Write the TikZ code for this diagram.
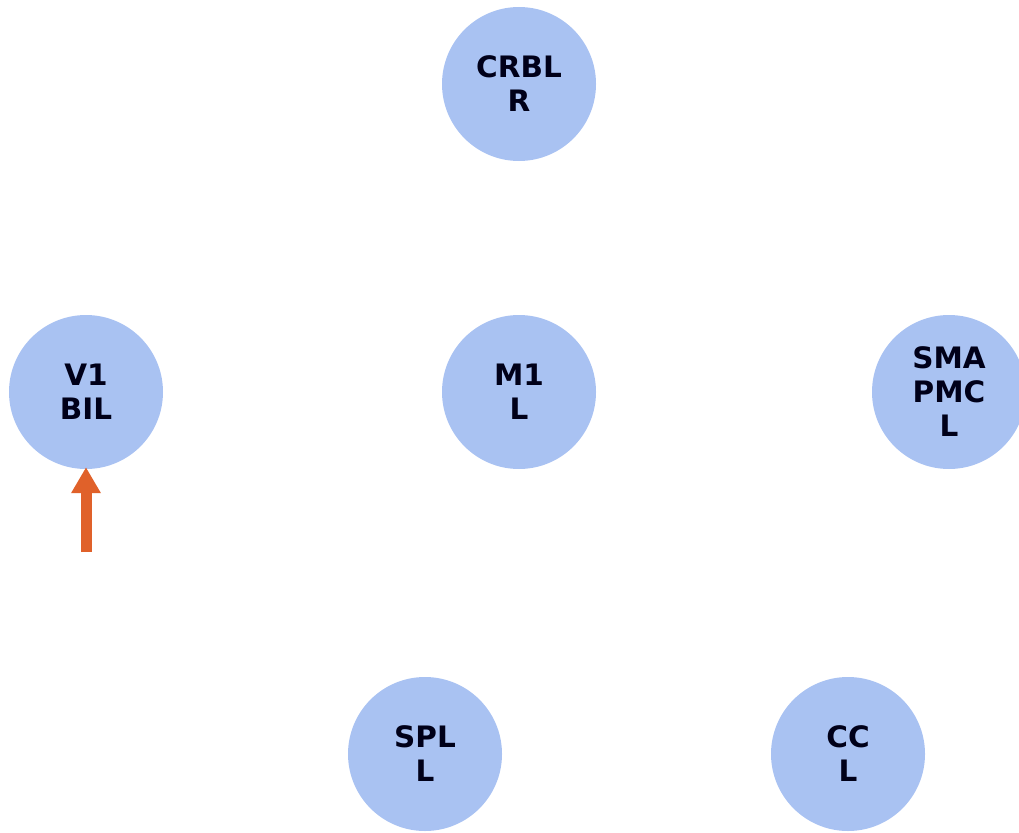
\documentclass[tikz,border=0pt]{standalone}
\usepackage{fontspec}
\setmainfont{DejaVu Sans}
\usetikzlibrary{arrows.meta}
\definecolor{regionfill}{HTML}{A9C2F2}
\definecolor{stimarrow}{HTML}{E0612A}
\begin{document}
\begin{tikzpicture}[x=1pt,y=-1pt,
  region/.style={circle,fill=regionfill,minimum size=154pt,inner sep=0pt,
    align=center,font=\bfseries\fontsize{29.5}{34}\selectfont,text=black!90!blue},
  stim/.style={draw=stimarrow,line width=11pt,
    -{Triangle[width=28pt,length=26pt]}}]
\useasboundingbox (0,0) rectangle (1019,832);
\node[region] (crbl) at (519,84) {CRBL\\R};
\node[region] (v1) at (86,392) {V1\\BIL};
\node[region] (m1) at (519,392) {M1\\L};
\node[region] (sma) at (949,392) {SMA\\PMC\\L};
\node[region] (spl) at (425,754) {SPL\\L};
\node[region] (cc) at (848,754) {CC\\L};
\coordinate (stimstart) at (86,552);
\draw[stim] (stimstart) -- ([yshift=2pt]v1.south);
\end{tikzpicture}
\end{document}
